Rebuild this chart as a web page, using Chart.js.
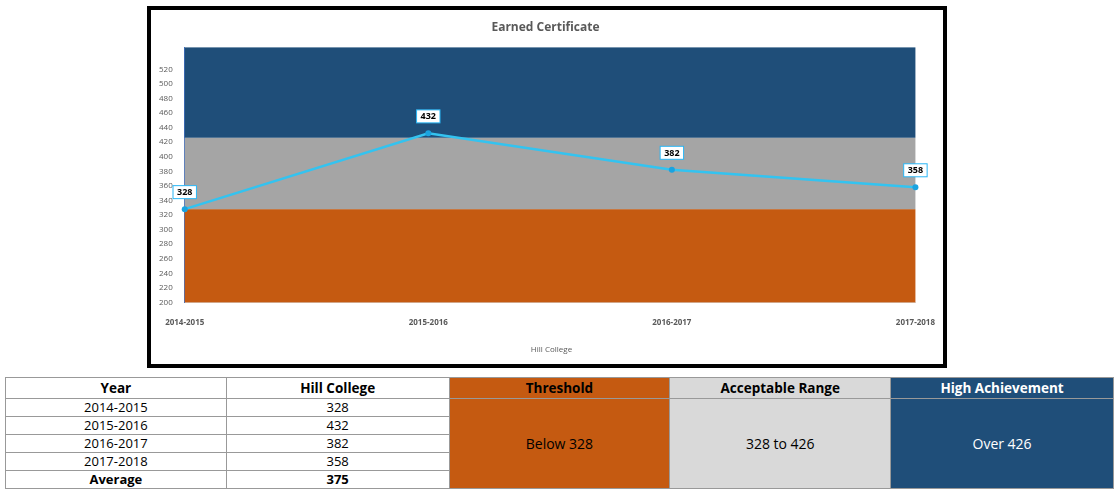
<!DOCTYPE html>
<html>
<head>
<meta charset="utf-8">
<script src="https://cdn.jsdelivr.net/npm/chart.js@4"></script>
<style>
  body { margin: 0; background: #fff; font-family: "Open Sans", sans-serif; }
  #frame { position: absolute; left: 147px; top: 6px; width: 792px; height: 354px; border: 4px solid #000; background: #fff; }
  #tbl { position: absolute; left: 5px; top: 377px; border-collapse: collapse; font-size: 13px; }
  #tbl td { border: 1px solid #999; text-align: center; padding: 0; height: 17px; line-height: 17px; }
  #tbl tr:first-child td { font-weight: bold; height: 20px; font-size: 13.5px; }
</style>
</head>
<body>
<div id="frame"><canvas id="c" width="792" height="354"></canvas></div>
<table id="tbl"></table>
<script>
const years = ["2014-2015", "2015-2016", "2016-2017", "2017-2018"];
const hillCollege = [328, 432, 382, 358];
const average = 375;
const bandEdges = [200, 328, 426, 550];
const bandColors = ["#c55a11", "#a5a5a5", "#1f4e79"];
const rangeLabels = ["Below 328", "328 to 426", "Over 426"];

const bandsPlugin = {
  id: "bands",
  beforeDatasetsDraw(chart) {
    const { ctx, chartArea, scales } = chart;
    for (let i = 0; i < bandColors.length; i++) {
      const top = scales.y.getPixelForValue(bandEdges[i + 1]);
      const bot = scales.y.getPixelForValue(bandEdges[i]);
      ctx.fillStyle = bandColors[i];
      ctx.fillRect(chartArea.left, top, chartArea.right - chartArea.left, bot - top);
    }
  }
};

const labelPlugin = {
  id: "labels",
  afterDatasetsDraw(chart) {
    const { ctx } = chart;
    const meta = chart.getDatasetMeta(0);
    ctx.font = "bold 9px 'Open Sans', sans-serif";
    ctx.textAlign = "center";
    ctx.textBaseline = "middle";
    meta.data.forEach((pt, i) => {
      const t = String(hillCollege[i]);
      const w = ctx.measureText(t).width + 8, h = 13;
      const x = pt.x, y = pt.y - 17;
      ctx.fillStyle = "#fff";
      ctx.fillRect(x - w / 2, y - h / 2, w, h);
      ctx.strokeStyle = "#29b6f6";
      ctx.lineWidth = 1;
      ctx.strokeRect(x - w / 2, y - h / 2, w, h);
      ctx.fillStyle = "#000";
      ctx.fillText(t, x, y + 0.5);
    });
  }
};

new Chart(document.getElementById("c"), {
  type: "line",
  data: {
    labels: years,
    datasets: [{
      label: "Hill College",
      data: hillCollege,
      borderColor: "#33c3f0",
      backgroundColor: "#1aa3e0",
      borderWidth: 2.5,
      pointRadius: 3,
      pointBackgroundColor: "#1aa3e0",
      pointBorderWidth: 0,
      tension: 0
    }]
  },
  options: {
    responsive: false,
    animation: false,
    layout: { padding: { left: 4, right: 7, top: 0, bottom: 0 } },
    plugins: {
      title: { display: true, text: "Earned Certificate", color: "#595959", font: { size: 12, weight: "bold", family: "Open Sans" }, padding: { top: 10, bottom: 13 } },
      legend: {
        position: "bottom",
        labels: { usePointStyle: true, pointStyle: "line", boxWidth: 20, color: "#595959", font: { size: 8, family: "Open Sans" }, padding: 10 }
      },
      tooltip: { enabled: false }
    },
    scales: {
      x: {
        grid: { display: false },
        border: { color: "#d9d9d9" },
        ticks: { color: "#595959", font: { size: 8, weight: "bold", family: "Open Sans" }, padding: 8 }
      },
      y: {
        min: 200, max: 550,
        afterBuildTicks(s) { s.ticks = s.ticks.filter(t => t.value <= 540); },
        ticks: { stepSize: 20, color: "#595959", font: { size: 8, family: "Open Sans" }, padding: 4 },
        grid: { display: false },
        border: { color: "#4472c4" }
      }
    }
  },
  plugins: [bandsPlugin, labelPlugin]
});

const widths = [220, 222, 220, 220, 222];
const tbl = document.getElementById("tbl");
let html = "<tr>" +
  `<td style="width:${widths[0]}px">Year</td><td style="width:${widths[1]}px">Hill College</td>` +
  `<td style="width:${widths[2]}px;background:${bandColors[0]}">Threshold</td>` +
  `<td style="width:${widths[3]}px;background:#d9d9d9">Acceptable Range</td>` +
  `<td style="width:${widths[4]}px;background:${bandColors[2]};color:#fff">High Achievement</td></tr>`;
years.forEach((y, i) => {
  html += `<tr><td>${y}</td><td>${hillCollege[i]}</td>`;
  if (i === 0) {
    html += `<td rowspan="5" style="background:${bandColors[0]};font-size:14px">${rangeLabels[0]}</td>` +
      `<td rowspan="5" style="background:#d9d9d9;font-size:14px">${rangeLabels[1]}</td>` +
      `<td rowspan="5" style="background:${bandColors[2]};color:#fff;font-size:14px">${rangeLabels[2]}</td>`;
  }
  html += "</tr>";
});
html += `<tr><td style="font-weight:bold">Average</td><td style="font-weight:bold">${average}</td></tr>`;
tbl.innerHTML = html;
</script>
</body>
</html>
